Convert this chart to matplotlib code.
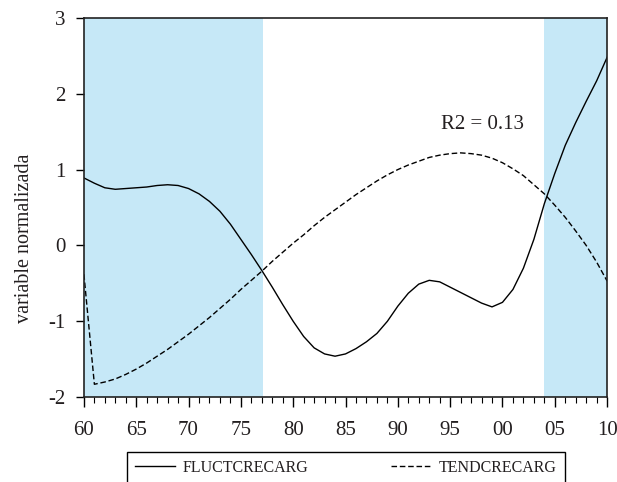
import numpy as np
import matplotlib
matplotlib.use('Agg')
import matplotlib.pyplot as plt
from matplotlib.ticker import MultipleLocator, FuncFormatter

plt.rcParams['font.family'] = ['Liberation Serif', 'DejaVu Serif']
plt.rcParams['lines.scale_dashes'] = False
plt.rcParams['axes.unicode_minus'] = False

# years (1960 = 60 ... 2010 = 110)
years = np.arange(60, 111)

fluct = [0.89, 0.82, 0.76, 0.74, 0.75, 0.76, 0.77, 0.79, 0.80, 0.79, 0.75,
         0.68, 0.58, 0.45, 0.28, 0.08, -0.12, -0.33, -0.55, -0.78, -1.00,
         -1.20, -1.35, -1.43, -1.46, -1.43, -1.36, -1.27, -1.16, -1.00, -0.80,
         -0.63, -0.51, -0.46, -0.48, -0.55, -0.62, -0.69, -0.76, -0.81, -0.75,
         -0.58, -0.30, 0.08, 0.55, 0.95, 1.32, 1.62, 1.90, 2.17, 2.48]

tend = [-0.38, -1.83, -1.80, -1.76, -1.70, -1.63, -1.55, -1.46, -1.37, -1.27,
        -1.17, -1.06, -0.95, -0.83, -0.71, -0.58, -0.46, -0.34, -0.21, -0.09,
        0.03, 0.14, 0.26, 0.37, 0.47, 0.57, 0.67, 0.76, 0.85, 0.93, 1.00,
        1.06, 1.11, 1.16, 1.19, 1.21, 1.22, 1.21, 1.19, 1.15, 1.09, 1.01,
        0.92, 0.80, 0.68, 0.53, 0.37, 0.19, 0.00, -0.22, -0.47]

shaded = [(60, 77.1), (104, 110)]
r2_text = 'R2 = 0.13'

txt = '#231f20'
fig = plt.figure(figsize=(6.17, 4.82), dpi=100)
ax = fig.add_axes([0.136, 0.176, 0.848, 0.787])

for a, b in shaded:
    ax.axvspan(a, b, color='#c6e8f7', lw=0, zorder=0)

l1, = ax.plot(years, fluct, color='black', lw=1.0, label='FLUCTCRECARG')
l2, = ax.plot(years, tend, color='black', lw=1.0, dashes=(4, 2),
              label='TENDCRECARG')

ax.text(98.1, 1.59, r2_text, ha='center', va='center', fontsize=15,
        color=txt)

ax.set_xlim(60, 110)
ax.set_ylim(-2, 3)
ax.xaxis.set_major_locator(MultipleLocator(5))
ax.xaxis.set_minor_locator(MultipleLocator(1))
ax.yaxis.set_major_locator(MultipleLocator(1))
ax.xaxis.set_major_formatter(FuncFormatter(lambda v, p: '%02d' % (int(round(v)) % 100)))

ax.tick_params(axis='x', which='major', direction='out', length=7.5,
               width=1.0, pad=9.5, labelsize=15, labelcolor=txt)
ax.tick_params(axis='x', which='minor', direction='out', length=4.3,
               width=0.8)
ax.tick_params(axis='y', direction='out', length=5.5, width=1.0, pad=7.5,
               labelsize=15, labelcolor=txt)
for s in ax.spines.values():
    s.set_linewidth(1.2)
    s.set_color('#222222')

ax.set_ylabel('variable normalizada', fontsize=14.5, color=txt)
ax.yaxis.set_label_coords(-0.096, 0.42)

fig.legend([l1, l2], ['FLUCTCRECARG', 'TENDCRECARG'], ncol=2,
           loc='upper left', bbox_to_anchor=(127 / 617, 0.0622 - 0.1, 438 / 617, 0.1),
           mode='expand', fontsize=11.5, frameon=True, fancybox=False,
           edgecolor='black', framealpha=1, handlelength=2.5,
           handletextpad=0.5, borderpad=0.5, borderaxespad=0,
           labelcolor=txt)

fig.savefig('out.png', dpi=100)
